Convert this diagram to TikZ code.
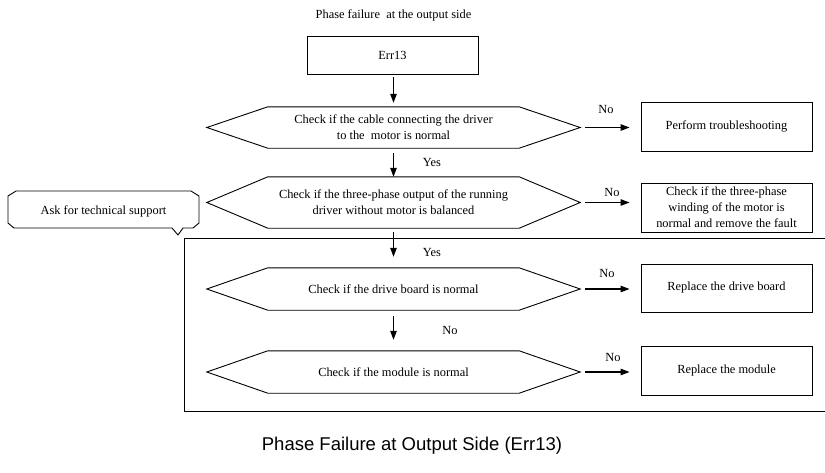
\documentclass[tikz,border=0pt]{standalone}
\usepackage{fontspec}
\setmainfont{Liberation Serif}
\newfontfamily\capfont{Liberation Sans}
\usetikzlibrary{calc,arrows.meta}
\begin{document}
\begin{tikzpicture}[x=1pt,y=-1pt,
  txt/.style={font=\fontsize{12.4}{16}\selectfont, align=center, inner sep=0pt},
  boxnode/.style={txt, draw, line width=0.9pt, minimum width=171, minimum height=49},
  hexcore/.style={txt, minimum width=251},
  arr/.style={line width=1.1pt, -{Triangle[length=9pt,width=6.5pt]}},
  lbl/.style={txt}
]
\useasboundingbox (0,0) rectangle (825,472);

\newcommand{\hexshape}[1]{%
  \draw[line width=0.9pt] (#1.north west) -- ($(#1.west)+(-61,0)$) -- (#1.south west)
    -- (#1.south east) -- ($(#1.east)+(61,0)$) -- (#1.north east) -- cycle;
  \coordinate (#1tip) at ($(#1.east)+(61,0)$);}

% title
\node[txt] (title) at (393.5,15) {Phase failure\ \ at the output side};
\node[boxnode, minimum height=38] (e13) at (392.5,55) {Err13};

% hexagons
\node[hexcore, minimum height=41] (h1) at (393.5,127.5) {Check if the cable connecting the driver\\to the\ \ motor is normal};
\hexshape{h1}
\node[hexcore, minimum height=51] (h2) at (393.5,202.5) {Check if the three-phase output of the running\\driver without motor is balanced};
\hexshape{h2}
\node[hexcore, minimum height=42] (h3) at (393.5,289) {Check if the drive board is normal};
\hexshape{h3}
\node[hexcore, minimum height=42] (h4) at (393.5,372) {Check if the module is normal};
\hexshape{h4}

% right boxes
\node[boxnode] (b1) at (726.5,126.5) {Perform troubleshooting};
\node[boxnode] (b2) at (726.5,207.5) {Check if the three-phase\\winding of the motor is\\normal and remove the fault};
\node[boxnode, minimum height=48] (b3) at (726.5,288) {Replace the drive board};
\node[boxnode] (b4) at (726.5,370.5) {Replace the module};

% vertical arrows
\draw[arr, shorten <=3pt, shorten >=4pt] (h1.north |- e13.south) -- (h1.north);
\draw[arr, shorten <=5pt] (h1.south) -- (h2.north);
\draw[arr, shorten <=4pt, shorten >=11pt] (h2.south) -- (h3.north);
\draw[arr, shorten <=6pt, shorten >=11pt] (h3.south) -- (h4.north);

% horizontal arrows
\draw[arr, shorten <=5pt, shorten >=11pt] (h1tip) -- (h1tip -| b1.west);
\draw[arr, shorten <=5pt, shorten >=11pt] (h2tip) -- (h2tip -| b2.west);
\draw[arr, shorten <=5pt, shorten >=11pt] (h3tip) -- (h3tip -| b3.west);
\draw[arr, shorten <=5pt, shorten >=11pt] (h4tip) -- (h4tip -| b4.west);

% labels
\node[lbl] (n1) at (606,109) {No};
\node[lbl] (n2) at (612,192) {No};
\node[lbl] (n3) at (607,273) {No};
\node[lbl] (n4) at (613,357) {No};
\node[lbl] (y1) at (432,162) {Yes};
\node[lbl] (y2) at (432,252) {Yes};
\node[lbl] (n5) at (450,330) {No};

% callout
\node[txt] (ask) at (103.5,211) {Ask for technical support};
\draw[line width=0.9pt] (16,191) -- (191,191) -- (199,196) -- (199,223) -- (193,228)
  -- (183,228) -- (178,235) -- (172,228) -- (14,228) -- (8,223) -- (8,196) -- cycle;

% enclosing frame (open on the right)
\coordinate (fr1) at (825,238);
\coordinate (fr2) at (184,238);
\coordinate (fr3) at (184,411);
\coordinate (fr4) at (825,411);
\draw[line width=0.9pt] (fr1) -- (fr2) -- (fr3) -- (fr4);

% caption
\node[inner sep=0pt, font=\capfont\fontsize{18.5}{22}\selectfont] (cap) at (412,446) {Phase Failure at Output Side (Err13)};
\end{tikzpicture}
\end{document}
